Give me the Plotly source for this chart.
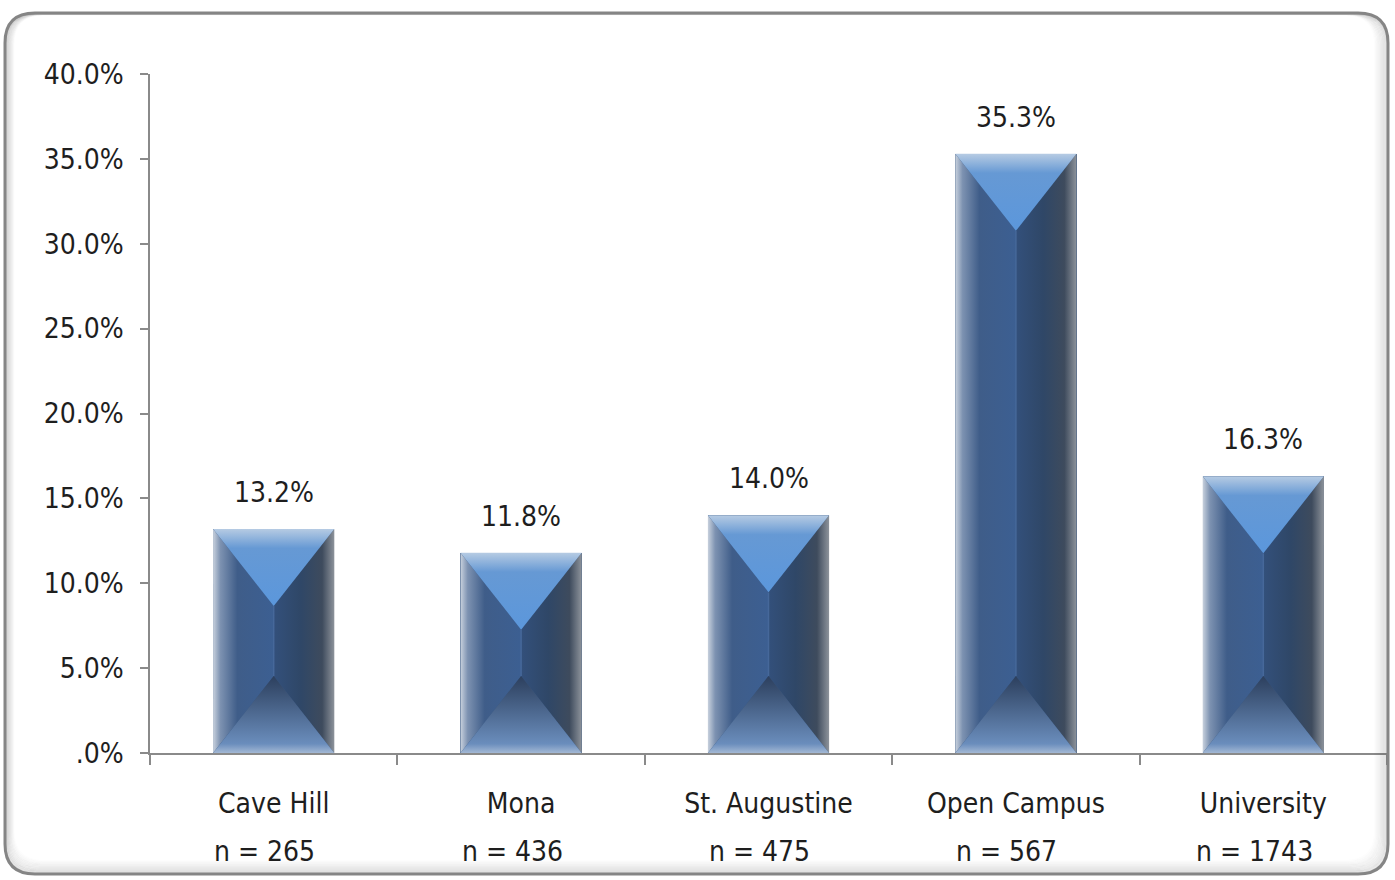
import plotly.graph_objects as go

# Share of respondents by campus
campuses = ["Cave Hill", "Mona", "St. Augustine", "Open Campus", "University"]
sample_sizes = ["n = 265", "n = 436", "n = 475", "n = 567", "n = 1743"]
shares = [13.2, 11.8, 14.0, 35.3, 16.3]
y_ticks = [0, 5, 10, 15, 20, 25, 30, 35, 40]
y_tick_labels = [".0%", "5.0%", "10.0%", "15.0%", "20.0%", "25.0%", "30.0%", "35.0%", "40.0%"]

W, H = 1395, 880
ML, MR, MT, MB = 150, 8, 74, 127
PW, PH = W - ML - MR, H - MT - MB
Y_MAX = 40.0
X_MIN, X_MAX = -0.5, len(campuses) - 0.5

FONT = "Liberation Sans Narrow, DejaVu Sans Condensed, Arial Narrow, sans-serif"
TEXT = "#1e1e1e"
AXIS = "#8a8a8a"

BAR_W = 0.49
HW = BAR_W / 2
BEVEL = 77 * Y_MAX / PH  # bevel depth in axis units (77 px)

fig = go.Figure()

# base bars
fig.add_trace(go.Bar(
    x=list(range(len(campuses))), y=shares, width=BAR_W,
    marker=dict(color="#36557f", line=dict(width=0)),
    hoverinfo="skip", showlegend=False,
))

LEFT_CS = [[0, "#c8d1dd"], [0.12, "#7d92b1"], [0.4, "#3f5d89"], [1, "#3c5f92"]]
RIGHT_CS = [[0, "#33507b"], [0.45, "#2f4767"], [0.8, "#3e4b5d"], [1, "#8d939b"]]
TOP_CS = [[0, "#5b97dc"], [0.75, "#6699d4"], [1, "#b6cbe3"]]
BOT_CS = [[0, "#a3b8d4"], [0.12, "#6a8dbc"], [1, "#2c3f5d"]]


def poly(xs, ys, kind, cs, start, stop):
    fig.add_trace(go.Scatter(
        x=xs + [xs[0]], y=ys + [ys[0]], mode="lines", fill="toself",
        line=dict(width=0, color="rgba(0,0,0,0)"),
        fillgradient=dict(type=kind, colorscale=cs, start=start, stop=stop),
        hoverinfo="skip", showlegend=False,
    ))


for i, v in enumerate(shares):
    l, r = i - HW, i + HW
    top_apex = v - BEVEL
    bot_apex = BEVEL
    # left and right faces
    poly([l, l, i, i], [0, v, top_apex, bot_apex], "horizontal", LEFT_CS, l, i)
    poly([r, r, i, i], [0, v, top_apex, bot_apex], "horizontal", RIGHT_CS, i, r)
    # top and bottom faces
    poly([l, r, i], [v, v, top_apex], "vertical", TOP_CS, top_apex, v)
    poly([l, r, i], [0, 0, bot_apex], "vertical", BOT_CS, 0, bot_apex)
    # ridge between the apexes
    fig.add_trace(go.Scatter(
        x=[i, i], y=[bot_apex, top_apex], mode="lines",
        line=dict(width=1.5, color="#46689a"),
        hoverinfo="skip", showlegend=False,
    ))

annotations = []
for i, v in enumerate(shares):
    annotations.append(dict(
        x=i, y=v, xref="x", yref="y", text=f"{v:.1f}%", showarrow=False,
        yanchor="bottom", yshift=18, font=dict(family=FONT, size=28, color=TEXT),
    ))
for i, n in enumerate(sample_sizes):
    annotations.append(dict(
        x=i, y=(MT + PH - 851) / PH, xref="x", yref="paper", text=n,
        showarrow=False, yanchor="middle", xshift=-9,
        font=dict(family=FONT, size=28, color=TEXT),
    ))


def px(xp):
    return (xp - ML) / PW


def py(yp):
    return (MT + PH - yp) / PH


def rounded(x0, y0, x1, y1, r):
    return (
        f"M {px(x0 + r)},{py(y0)} L {px(x1 - r)},{py(y0)} "
        f"Q {px(x1)},{py(y0)} {px(x1)},{py(y0 + r)} "
        f"L {px(x1)},{py(y1 - r)} Q {px(x1)},{py(y1)} {px(x1 - r)},{py(y1)} "
        f"L {px(x0 + r)},{py(y1)} Q {px(x0)},{py(y1)} {px(x0)},{py(y1 - r)} "
        f"L {px(x0)},{py(y0 + r)} Q {px(x0)},{py(y0)} {px(x0 + r)},{py(y0)} Z"
    )


shapes = []
# soft inner shading along the frame (stronger on the right and bottom)
for k in range(1, 12):
    a = 0.16 * (1 - k / 12)
    shapes.append(dict(
        type="path", xref="paper", yref="paper",
        path=rounded(5 + k * 0.8, 13 + k * 0.15, 1388 - k * 1.2, 874 - k * 1.2, 30),
        line=dict(color=f"rgba(70,70,70,{a:.3f})", width=1.5),
    ))
# frame
shapes.append(dict(
    type="path", xref="paper", yref="paper", path=rounded(5, 13, 1388, 874, 30),
    line=dict(color="#858585", width=3),
))

fig.update_layout(
    width=W, height=H,
    margin=dict(l=ML, r=MR, t=MT, b=MB, pad=0),
    paper_bgcolor="white", plot_bgcolor="white",
    bargap=0, showlegend=False,
    font=dict(family=FONT, size=28, color=TEXT),
    shapes=shapes, annotations=annotations,
    xaxis=dict(
        range=[X_MIN, X_MAX], tickmode="array",
        tickvals=list(range(len(campuses))), ticktext=campuses,
        ticks="", ticklabelstandoff=25, showgrid=False, zeroline=False,
        showline=True, linecolor=AXIS, linewidth=1.5,
        tickfont=dict(family=FONT, size=28, color=TEXT),
        minor=dict(tickmode="array",
                   tickvals=[b - 0.5 for b in range(len(campuses) + 1)],
                   ticks="outside", ticklen=10, tickcolor=AXIS, tickwidth=1.5,
                   showgrid=False),
        fixedrange=True,
    ),
    yaxis=dict(
        range=[0, Y_MAX], tickmode="array", tickvals=y_ticks, ticktext=y_tick_labels,
        ticks="outside", ticklen=8, tickcolor=AXIS, tickwidth=1.5,
        ticklabelstandoff=11, showgrid=False, zeroline=False,
        showline=True, linecolor=AXIS, linewidth=1.5,
        tickfont=dict(family=FONT, size=28, color=TEXT),
        fixedrange=True,
    ),
)

fig.write_html("out.html", config={"displayModeBar": False})
